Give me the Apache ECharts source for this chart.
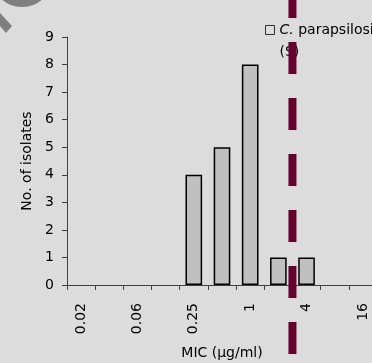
<!DOCTYPE html>
<html><head><meta charset="utf-8">
<script src="https://cdn.jsdelivr.net/npm/echarts@6/dist/echarts.min.js"></script>
<style>html,body{margin:0;padding:0;background:#dcdcdc}#c{width:372px;height:363px}</style>
</head><body><div id="c"></div>
<script>
const categories = ['0.02','0.03','0.06','0.12','0.25','0.5','1','2','4','8','16'];
const isolates = [0,0,0,0,4,5,8,1,1,0,0];
const yTicks = [0,1,2,3,4,5,6,7,8,9];
const breakpointPos = 8; // boundary between MIC 2 and 4
const seriesName = 'C. parapsilosis (S)';

const font = 'DejaVu Sans';
const barData = isolates.map(v => v > 0 ? v : {value: v, itemStyle: {borderWidth: 0, opacity: 0}});
const chart = echarts.init(document.getElementById('c'), null, {renderer:'canvas'});
chart.setOption({
  backgroundColor: '#dcdcdc',
  animation: false,
  textStyle: {fontFamily: font},
  graphic: [
    {type:'circle', shape:{cx:22, cy:-24, r:31}, style:{fill:'#7f7f7f'}, z:0},
    {type:'polygon', shape:{points:[[0,13],[12,26],[6,33],[0,26]]}, style:{fill:'#7f7f7f'}, z:0}
  ],
  legend: {
    data: [seriesName],
    left: 265, top: -3, padding: 0,
    icon: 'rect', itemWidth: 9, itemHeight: 9, itemGap: 5,
    itemStyle: {color:'#dcdcdc', borderColor:'#303030', borderWidth:1},
    formatter: () => '\n{i|C.} parapsilosis\n(S)',
    textStyle: {fontFamily: font, fontSize: 14, color:'#000', lineHeight: 22,
      rich: {i: {fontStyle:'italic', fontFamily: font, fontSize: 14, lineHeight: 22}}}
  },
  grid: [
    {left: 67, width: 310, top: 37, height: 248, containLabel:false, outerBoundsMode:'none'},
    {left: 67, width: 310, top: -14, height: 390, containLabel:false, outerBoundsMode:'none'}
  ],
  xAxis: [
    {type:'category', data: categories, gridIndex:0,
     name:'MIC (µg/ml)', nameLocation:'middle', nameGap: 61,
     nameTextStyle:{fontSize:14, color:'#000', fontFamily: font},
     axisLine:{lineStyle:{color:'#404040', width:1}},
     axisTick:{show:true, interval:0, length:5, lineStyle:{color:'#404040'}},
     axisLabel:{interval:1, rotate:90, fontSize:14, color:'#000', margin:18, fontFamily: font}},
    {type:'value', gridIndex:1, min:0, max:11, show:false}
  ],
  yAxis: [
    {type:'value', gridIndex:0, min:0, max:9, interval:1,
     name:'No. of isolates', nameLocation:'middle', nameGap: 33,
     nameTextStyle:{fontSize:14, color:'#000', fontFamily: font},
     axisLine:{show:true, lineStyle:{color:'#404040', width:1}},
     axisTick:{show:true, length:5, lineStyle:{color:'#404040'}},
     splitLine:{show:false},
     axisLabel:{fontSize:14, color:'#000', margin:13, fontFamily: font,
       formatter: v => yTicks.includes(v) ? String(v) : ''}},
    {type:'value', gridIndex:1, min:0, max:1, show:false}
  ],
  series: [
    {type:'bar', name: seriesName, data: barData, xAxisIndex:0, yAxisIndex:0,
     barCategoryGap:'41%',
     itemStyle:{color:'#c0c0c0', borderColor:'#000', borderWidth:1.5}},
    {type:'line', xAxisIndex:1, yAxisIndex:1, z:10, symbol:'none', silent:true,
     data:[[breakpointPos,1],[breakpointPos,0]],
     lineStyle:{color:'#660033', width:8, type:[32,24], dashOffset:0, cap:'butt'}}
  ]
});
</script></body></html>
